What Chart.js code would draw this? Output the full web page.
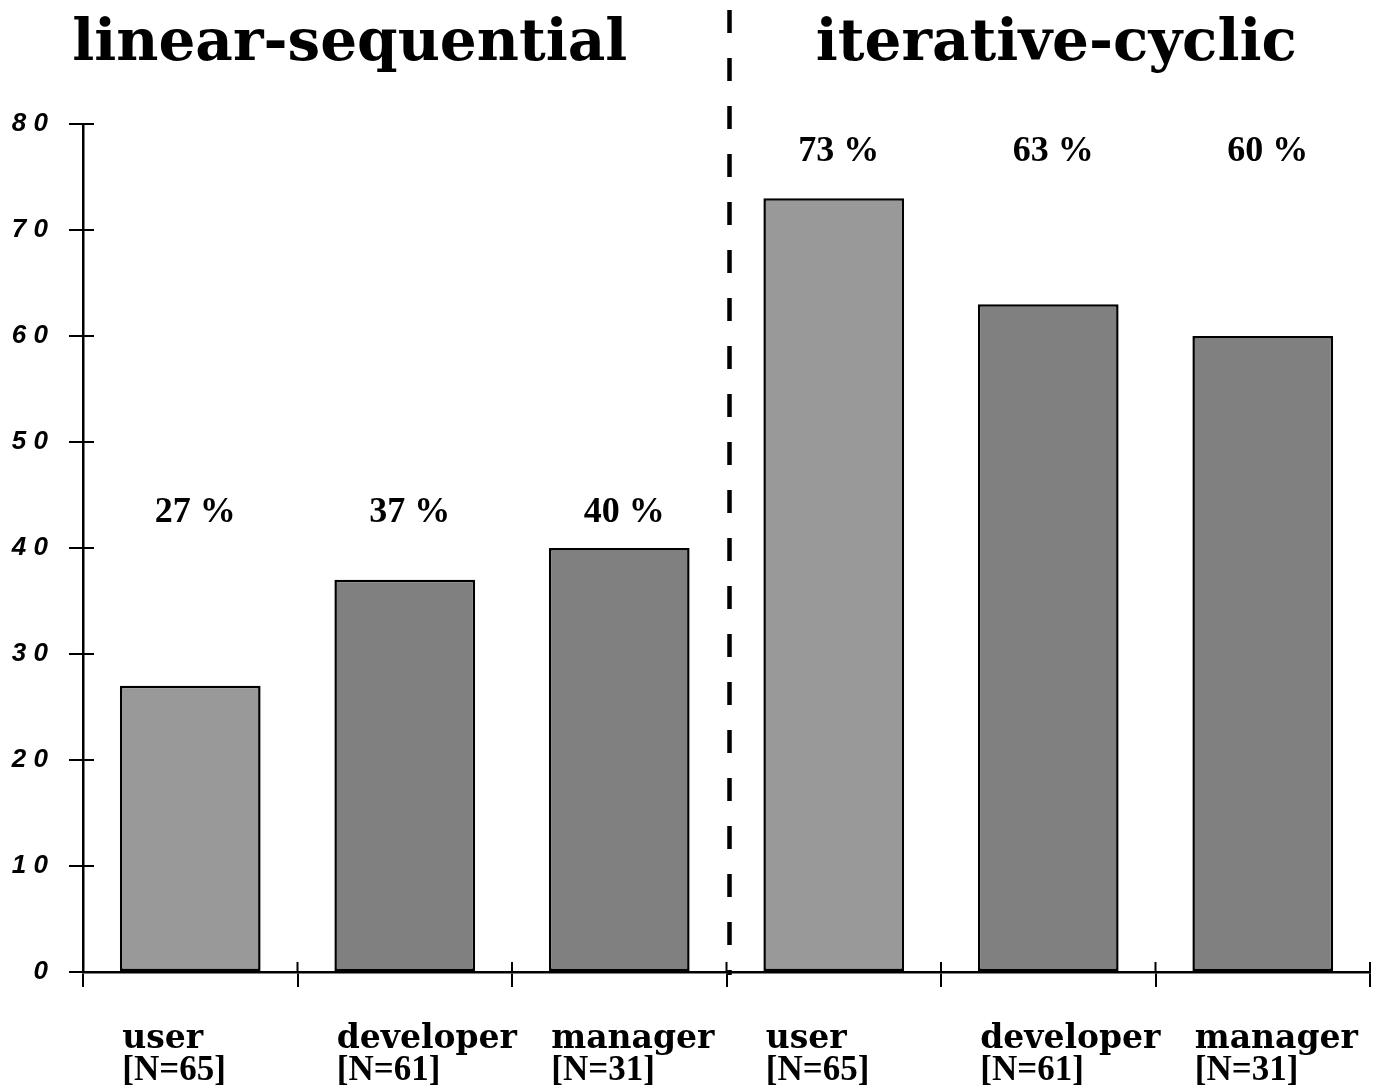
<!DOCTYPE html>
<html>
<head>
<meta charset="utf-8">
<script src="https://cdn.jsdelivr.net/npm/chart.js@4/dist/chart.umd.min.js"></script>
<style>
  html, body { margin: 0; padding: 0; background: #ffffff; }
  #wrap { width: 1396px; height: 1090px; }
</style>
</head>
<body>
<div id="wrap"><canvas id="c" width="1396" height="1090"></canvas></div>
<script>
// ---- data ----
const groupTitles = ['linear-sequential', 'iterative-cyclic'];
const roles = ['user', 'developer', 'manager', 'user', 'developer', 'manager'];
const sampleSizes = ['[N=65]', '[N=61]', '[N=31]', '[N=65]', '[N=61]', '[N=31]'];
const percentages = [27, 37, 40, 73, 63, 60];
const categories = roles.map((r, i) => r + ' ' + sampleSizes[i]);
const yMin = 0, yMax = 80, yStep = 10;

// ---- styling ----
const lightGrey = '#999999';
const darkGrey = '#808080';
const barColors = roles.map(r => r === 'user' ? lightGrey : darkGrey);

const serifBold = "'DejaVu Serif', serif";
const nFont = "'Liberation Serif', 'Times New Roman', serif";

const decorPlugin = {
  id: 'decor',
  afterDraw(chart) {
    const ctx = chart.ctx;
    const xs = chart.scales.x, ys = chart.scales.y;
    const area = chart.chartArea;
    ctx.save();
    // inner parts of axis ticks
    ctx.strokeStyle = '#000';
    ctx.lineWidth = 2;
    ys.ticks.forEach(t => {
      const py = ys.getPixelForValue(t.value);
      ctx.beginPath();
      ctx.moveTo(area.left, py);
      ctx.lineTo(area.left + 11, py);
      ctx.stroke();
    });
    for (let i = 0; i <= roles.length; i++) {
      const px = xs.getPixelForValue(i - 0.5);
      ctx.beginPath();
      ctx.moveTo(px, area.bottom);
      ctx.lineTo(px, area.bottom - 10);
      ctx.stroke();
    }
    // dashed separator
    const sepX = xs.getPixelForValue(2.5) + 3;
    ctx.setLineDash([23, 25]);
    ctx.lineWidth = 4.5;
    ctx.beginPath();
    ctx.moveTo(sepX, 10);
    ctx.lineTo(sepX, area.bottom + 3);
    ctx.stroke();
    ctx.setLineDash([]);
    // group titles
    ctx.fillStyle = '#000';
    ctx.font = "bold 58px " + serifBold;
    ctx.textAlign = 'center';
    ctx.textBaseline = 'alphabetic';
    const g1 = (xs.getPixelForValue(-0.5) + xs.getPixelForValue(2.5)) / 2;
    const g2 = (xs.getPixelForValue(2.5) + xs.getPixelForValue(5.5)) / 2;
    ctx.fillText(groupTitles[0], g1 - 55, 60);
    ctx.fillText(groupTitles[1], g2 + 8, 60);
    // category labels (two lines) under each category
    ctx.textAlign = 'left';
    roles.forEach((r, i) => {
      const lx = xs.getPixelForValue(i) - 68;
      ctx.font = "bold 33px " + serifBold;
      ctx.fillText(r, lx, area.bottom + 76);
      ctx.font = "bold 35px " + nFont;
      ctx.fillText(sampleSizes[i], lx, area.bottom + 108);
    });
    // percentage labels
    ctx.textAlign = 'center';
    ctx.font = "bold 36px 'Liberation Serif', 'Times New Roman', serif";
    ctx.textBaseline = 'middle';
    const meta = chart.getDatasetMeta(0);
    const levels = [43.3, 43.3, 43.3, 77.4, 77.4, 77.4];
    meta.data.forEach((bar, i) => {
      ctx.fillText(percentages[i] + ' %', bar.x + 5, ys.getPixelForValue(levels[i]));
    });
    ctx.restore();
  }
};

new Chart(document.getElementById('c'), {
  type: 'bar',
  data: {
    labels: categories,
    datasets: [{
      data: percentages,
      backgroundColor: barColors,
      borderColor: '#000',
      borderWidth: 2.5,
      borderSkipped: false,
      categoryPercentage: 1,
      barPercentage: 0.656
    }]
  },
  options: {
    responsive: false,
    animation: false,
    devicePixelRatio: 1,
    layout: { padding: { left: 0, right: 26, top: 124, bottom: 0 } },
    plugins: { legend: { display: false }, tooltip: { enabled: false }, title: { display: false } },
    scales: {
      x: {
        type: 'category',
        position: 'bottom',
        offset: true,
        grid: { offset: true, drawOnChartArea: false, tickLength: 15, color: '#000', lineWidth: 2 },
        border: { color: '#000', width: 2.5 },
        ticks: { display: false, autoSkip: false },
        afterFit: s => { s.paddingLeft = 0; s.paddingRight = 0; s.height = 118; }
      },
      y: {
        min: yMin, max: yMax,
        grid: { drawOnChartArea: false, tickLength: 14, color: '#000', lineWidth: 2 },
        border: { color: '#000', width: 2.5 },
        ticks: {
          stepSize: yStep, padding: 21, color: '#000',
          font: { family: "'Liberation Sans', Arial, sans-serif", weight: 'bold', style: 'italic', size: 26 },
          callback: v => String(v).split('').join(' ')
        },
        afterFit: s => { s.width = 83; }
      }
    }
  },
  plugins: [decorPlugin]
});
</script>
</body>
</html>
